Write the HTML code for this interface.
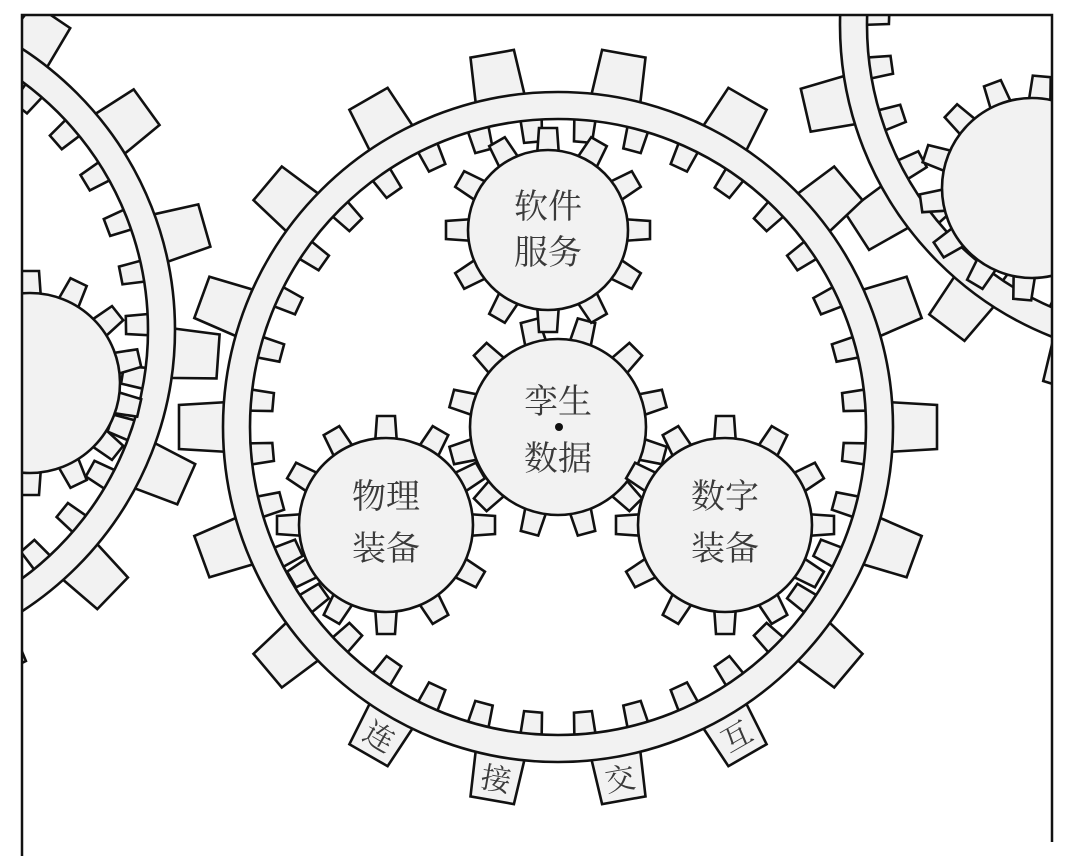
<!DOCTYPE html>
<html><head><meta charset="utf-8"><style>
html,body{margin:0;padding:0;background:#fff;width:1077px;height:856px;overflow:hidden}
svg{display:block}
text{font-family:"Liberation Serif","Noto Serif CJK SC",serif;fill:#3a3a3a}
</style></head><body>
<svg id="s" width="1077" height="856" viewBox="0 0 1077 856" xmlns="http://www.w3.org/2000/svg">
<defs><clipPath id="c"><rect x="22" y="15" width="1030" height="841"/></clipPath></defs>
<g id="g" clip-path="url(#c)" fill="#f2f2f2" stroke="#111" stroke-width="2.6" stroke-linejoin="miter"></g>
<g id="t" font-size="34" text-anchor="middle">
<text x="548" y="218">软件</text><text x="548" y="264">服务</text>
<text x="558" y="413">孪生</text><text x="558" y="470">数据</text>
<text x="386" y="508">物理</text><text x="386" y="560">装备</text>
<text x="725" y="508">数字</text><text x="725" y="560">装备</text>
</g>
<circle cx="559" cy="427" r="4" fill="#111"/>
<g id="lab" font-size="30" text-anchor="middle"></g>
<path d="M22 856 V15 H1052 V842" fill="none" stroke="#111" stroke-width="2.5"/>
</svg>
<script>
var g=document.getElementById('g'),out='';
function P(a){return a.map(function(p){return p[0].toFixed(1)+','+p[1].toFixed(1)}).join(' ')}
function tooth(cx,cy,r0,h,w0,w1,deg){var a=deg*Math.PI/180,ux=Math.sin(a),uy=-Math.cos(a),vx=Math.cos(a),vy=Math.sin(a);
var b=[cx+ux*r0,cy+uy*r0],t=[cx+ux*(r0+h),cy+uy*(r0+h)];
return '<polygon points="'+P([[b[0]-vx*w0/2,b[1]-vy*w0/2],[t[0]-vx*w1/2,t[1]-vy*w1/2],[t[0]+vx*w1/2,t[1]+vy*w1/2],[b[0]+vx*w0/2,b[1]+vy*w0/2]])+'"/>';}
function ring(cx,cy,rot){var Ro=335,Ri=308,s='';
for(var i=0;i<18;i++)s+=tooth(cx,cy,Ro-6,50,50,44,rot+10+i*20);
for(var i=0;i<36;i++)s+=tooth(cx,cy,Ri+6,-28,22,18,rot+5+i*10);
s+='<path fill-rule="evenodd" d="M'+(cx-Ro)+','+cy+'a'+Ro+','+Ro+' 0 1,0 '+(2*Ro)+',0a'+Ro+','+Ro+' 0 1,0 '+(-2*Ro)+',0Z M'+(cx-Ri)+','+cy+'a'+Ri+','+Ri+' 0 1,0 '+(2*Ri)+',0a'+Ri+','+Ri+' 0 1,0 '+(-2*Ri)+',0Z"/>';
return s;}
function gear(cx,cy,r,n,rot){var s='';for(var i=0;i<n;i++)s+=tooth(cx,cy,r-6,28,22,18,rot+i*360/n);
return s+'<circle cx="'+cx+'" cy="'+cy+'" r="'+r+'"/>';}
out+=ring(-160,330,4);
out+=gear(30,383,90,14,0);
out+=ring(1175,25,7);
out+=gear(1032,188,90,14,5);
out+=ring(558,427,0);
out+=gear(558,427,88,12,15);
out+=gear(548,230,80,12,0);
out+=gear(386,525,87,12,0);
out+=gear(725,525,87,12,0);
g.innerHTML=out;
var lab=document.getElementById('lab'),L=[['连',210],['接',190],['交',170],['互',150]],ls='';
L.forEach(function(l){var a=l[1]*Math.PI/180,r=335+22,x=558+Math.sin(a)*r,y=427-Math.cos(a)*r;
ls+='<text x="0" y="11" transform="translate('+x.toFixed(1)+','+y.toFixed(1)+') rotate('+(l[1]-180)+')">'+l[0]+'</text>';});
lab.innerHTML=ls;
</script>
</body></html>
